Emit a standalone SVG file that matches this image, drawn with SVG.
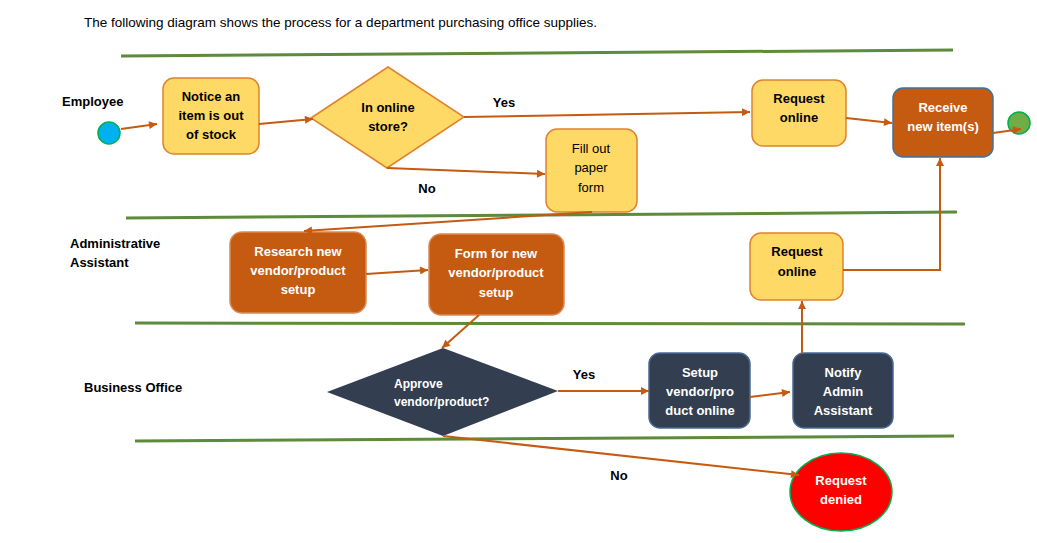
<svg xmlns="http://www.w3.org/2000/svg" width="1037" height="543" viewBox="0 0 1037 543">
<defs>
<marker id="arr" viewBox="0 0 10 10" refX="10" refY="5" markerWidth="9" markerHeight="8" markerUnits="userSpaceOnUse" orient="auto">
<path d="M0,0 L10,5 L0,10 z" fill="#C55A11"/>
</marker>
</defs>
<style>
text{font-family:"Liberation Sans",Arial,sans-serif;font-size:13px;fill:#000}
.b{font-weight:bold}
.c{text-anchor:middle}
.w{fill:#fff}
.lane{stroke:#5B8B3B;stroke-width:3;fill:none}
.conn{stroke:#C55A11;stroke-width:2;fill:none}
.yel{fill:#FFD966;stroke:#E0832F;stroke-width:1.5}
.brn{fill:#C55A11;stroke:#D98A55;stroke-width:1.5}
.dk{fill:#333F50;stroke:#4A6A95;stroke-width:1.5}
</style>
<rect width="1037" height="543" fill="#fff"/>
<text x="84" y="27" textLength="513" lengthAdjust="spacingAndGlyphs">The following diagram shows the process for a department purchasing office supplies.</text>

<g id="lanes">
<line class="lane" x1="121" y1="56" x2="953" y2="50"/>
<line class="lane" x1="126" y1="218" x2="957" y2="212"/>
<line class="lane" x1="135" y1="323" x2="965" y2="324"/>
<line class="lane" x1="135" y1="441" x2="954" y2="436"/>
<text class="b" x="62" y="106">Employee</text>
<text class="b" x="70" y="248">Administrative</text>
<text class="b" x="70" y="267">Assistant</text>
<text class="b" x="84" y="392">Business Office</text>
</g>

<g id="start"><circle cx="109" cy="133" r="11" fill="#00B0F0" stroke="#00B050" stroke-width="1.5"/></g>

<g id="notice">
<rect class="yel" x="163" y="78" width="96" height="76" rx="11"/>
<text class="b c" x="211" y="101">Notice an</text>
<text class="b c" x="211" y="120">item is out</text>
<text class="b c" x="211" y="139">of stock</text>
</g>

<g id="online-store">
<polygon class="yel" points="311,118 388,67 464,117 387,168"/>
<text class="b c" x="388" y="112">In online</text>
<text class="b c" x="388" y="131">store?</text>
</g>

<g id="fill-paper">
<rect class="yel" x="546" y="129" width="91" height="83" rx="11"/>
<text class="c" x="591" y="153">Fill out</text>
<text class="c" x="591" y="172">paper</text>
<text class="c" x="591" y="192">form</text>
</g>

<g id="request-online-emp">
<rect class="yel" x="752" y="80" width="94" height="66" rx="11"/>
<text class="b c" x="799" y="103">Request</text>
<text class="b c" x="799" y="122">online</text>
</g>

<g id="receive">
<rect x="893" y="88" width="100" height="69" rx="10" fill="#C55A11" stroke="#41719C" stroke-width="1.5"/>
<text class="b c w" x="943" y="112">Receive</text>
<text class="b c w" x="943" y="131">new item(s)</text>
</g>

<g id="end"><circle cx="1019" cy="123" r="11" fill="#70AD47" stroke="#00B050" stroke-width="1.5"/></g>

<g id="research">
<rect class="brn" x="230" y="232" width="136" height="81" rx="12"/>
<text class="b c w" x="298" y="256">Research new</text>
<text class="b c w" x="298" y="275">vendor/product</text>
<text class="b c w" x="298" y="294">setup</text>
</g>

<g id="form-new">
<rect class="brn" x="429" y="234" width="135" height="81" rx="12"/>
<text class="b c w" x="496" y="258">Form for new</text>
<text class="b c w" x="496" y="277">vendor/product</text>
<text class="b c w" x="496" y="297">setup</text>
</g>

<g id="request-online-admin">
<rect class="yel" x="750" y="233" width="93" height="67" rx="11"/>
<text class="b c" x="797" y="256">Request</text>
<text class="b c" x="797" y="276">online</text>
</g>

<g id="approve">
<polygon points="327,392 443,348 558,391 443,436" fill="#333F50"/>
<text class="b w" x="394" y="388" style="font-size:12px">Approve</text>
<text class="b w" x="394" y="406" style="font-size:12px">vendor/product?</text>
</g>

<g id="setup">
<rect class="dk" x="649" y="353" width="101" height="75" rx="11"/>
<text class="b c w" x="700" y="377">Setup</text>
<text class="b c w" x="700" y="396">vendor/pro</text>
<text class="b c w" x="700" y="415">duct online</text>
</g>

<g id="notify">
<rect class="dk" x="793" y="353" width="100" height="75" rx="11"/>
<text class="b c w" x="843" y="377">Notify</text>
<text class="b c w" x="843" y="396">Admin</text>
<text class="b c w" x="843" y="415">Assistant</text>
</g>

<g id="denied">
<ellipse cx="841" cy="492" rx="51" ry="39" fill="#FF0000" stroke="#00B050" stroke-width="1.5"/>
<text class="b c w" x="841" y="485">Request</text>
<text class="b c w" x="841" y="504">denied</text>
</g>

<g id="connectors">
<line class="conn" x1="121" y1="129" x2="157" y2="124" marker-end="url(#arr)"/>
<line class="conn" x1="259" y1="124" x2="313" y2="119" marker-end="url(#arr)"/>
<line class="conn" x1="464" y1="117" x2="750" y2="112" marker-end="url(#arr)"/>
<line class="conn" x1="387" y1="168" x2="545" y2="174" marker-end="url(#arr)"/>
<line class="conn" x1="846" y1="118" x2="892" y2="123" marker-end="url(#arr)"/>
<line class="conn" x1="993" y1="133" x2="1021" y2="129" marker-end="url(#arr)"/>
<line class="conn" x1="592" y1="212" x2="304" y2="231" marker-end="url(#arr)"/>
<line class="conn" x1="366" y1="274" x2="428" y2="270" marker-end="url(#arr)"/>
<line class="conn" x1="479" y1="315" x2="442" y2="348" marker-end="url(#arr)"/>
<line class="conn" x1="558" y1="391" x2="649" y2="391" marker-end="url(#arr)"/>
<line class="conn" x1="750" y1="397" x2="790" y2="392" marker-end="url(#arr)"/>
<line class="conn" x1="802" y1="353" x2="802" y2="301" marker-end="url(#arr)"/>
<polyline class="conn" points="843,270 940,270 940,158" marker-end="url(#arr)"/>
<line class="conn" x1="443" y1="436" x2="799" y2="475" marker-end="url(#arr)"/>
<text class="b c" x="504" y="107">Yes</text>
<text class="b c" x="427" y="193">No</text>
<text class="b c" x="584" y="379">Yes</text>
<text class="b c" x="619" y="480">No</text>
</g>
</svg>
